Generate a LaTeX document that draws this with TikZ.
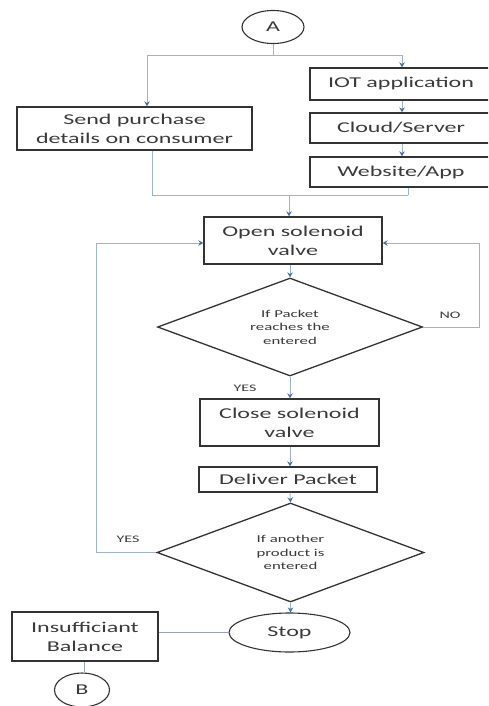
\documentclass[tikz,border=0pt]{standalone}
\usepackage{fontspec}
\setmainfont{Carlito}[FakeStretch=1.6]
\usetikzlibrary{shapes.geometric,arrows.meta}
\definecolor{lnc}{HTML}{9DB3D6}
\definecolor{arc}{HTML}{4A6FA8}
\definecolor{bdc}{HTML}{333333}
\definecolor{txc}{HTML}{3A3A3A}
\begin{document}
\begin{tikzpicture}[x=1pt,y=-1pt,
  box/.style={draw=bdc,line width=1.3pt,rectangle,inner sep=0pt,align=center,text=txc,
     font=\fontsize{15}{19}\selectfont},
  oval/.style={draw=bdc,line width=1.1pt,ellipse,inner sep=0pt,text=txc,
     font=\fontsize{15}{19}\selectfont},
  dec/.style={draw=bdc,line width=1.3pt,diamond,aspect=2.7,inner sep=0pt,align=center,text=txc,
     font=\fontsize{10.5}{13.5}\selectfont},
  conn/.style={draw=lnc,line width=0.9pt},
  arr/.style={conn,-{Stealth[length=5pt,width=5.5pt,color=arc]}},
  lbl/.style={text=txc,font=\fontsize{10}{12}\selectfont,inner sep=0pt}]
\useasboundingbox (0,0) rectangle (488,706);
\clip (0,0) rectangle (488,706);
% nodes
\node[oval,minimum width=62pt,minimum height=33pt] (A) at (273,27) {A};
\node[box,minimum width=235pt,minimum height=43pt] (send) at (134.5,128.5) {Send purchase\\details on consumer};
\node[box,minimum width=182pt,minimum height=32pt] (iot) at (401,84) {IOT application};
\node[box,minimum width=182pt,minimum height=30pt] (cloud) at (401,128) {Cloud/Server};
\node[box,minimum width=182pt,minimum height=30pt] (web) at (401,172) {Website/App};
\node[box,minimum width=178pt,minimum height=47pt] (open) at (293,240.5) {Open solenoid\\valve};
\node[dec,minimum width=265pt,minimum height=98pt] (d1) at (290,327) {If Packet\\reaches the\\entered};
\node[box,minimum width=179pt,minimum height=47pt] (close) at (289.5,422.5) {Close solenoid\\valve};
\node[box,minimum width=178pt,minimum height=25pt] (deliver) at (288,479.5) {Deliver Packet};
\node[dec,minimum width=267pt,minimum height=99pt] (d2) at (290.5,552.5) {If another\\product is\\entered};
\node[oval,minimum width=121pt,minimum height=39pt] (stop) at (289.5,632.5) {Stop};
\node[box,minimum width=146pt,minimum height=49pt] (insuf) at (85,636.5) {Insufficiant\\Balance};
\node[oval,minimum width=55pt,minimum height=34pt] (B) at (82,690) {B};
% labels
\node[lbl] (no) at (450,315) {NO};
\node[lbl] (yes1) at (245,388) {YES};
\node[lbl] (yes2) at (128,539) {YES};
% coordinates
\coordinate (jA) at (273,55);
\coordinate (jL) at (147,55);
\coordinate (jR) at (402,55);
\coordinate (mL) at (152,195);
\coordinate (mR) at (408,195);
\coordinate (mC) at (289,195);
\coordinate (nr) at (479,243);
\coordinate (yl) at (96,243);
\coordinate (cx) at (290,0);
% connectors
\draw[conn] (A.south) -- (jA);
\draw[conn] (jL) -- (jR);
\draw[arr] (jL) -- (jL |- send.north);
\draw[arr] (jR) -- (jR |- iot.north);
\draw[arr] (jR |- iot.south) -- (jR |- cloud.north);
\draw[arr] (jR |- cloud.south) -- (jR |- web.north);
\draw[conn] (mR |- web.south) -- (mR);
\draw[conn] (mL |- send.south) -- (mL);
\draw[conn] (mL) -- (mR);
\draw[arr] (mC) -- (mC |- open.north);
\draw[arr] (cx |- open.south) -- (d1.north);
\draw[arr] (d1.east) -| (nr) -- (open.east |- nr);
\draw[arr] (d1.south) -- (cx |- close.north);
\draw[arr] (cx |- close.south) -- (cx |- deliver.north);
\draw[arr] (cx |- deliver.south) -- (d2.north);
\draw[arr] (d2.west) -| (yl) -- (open.west |- yl);
\draw[arr] (d2.south) -- (stop.north -| d2.south);
\draw[conn,draw=lnc!70!gray] (stop.west) -- (insuf.east |- stop.west);
\draw[conn,draw=lnc!70!gray] (B.north -| 84,0) -- (insuf.south -| 84,0);
\end{tikzpicture}
\end{document}
